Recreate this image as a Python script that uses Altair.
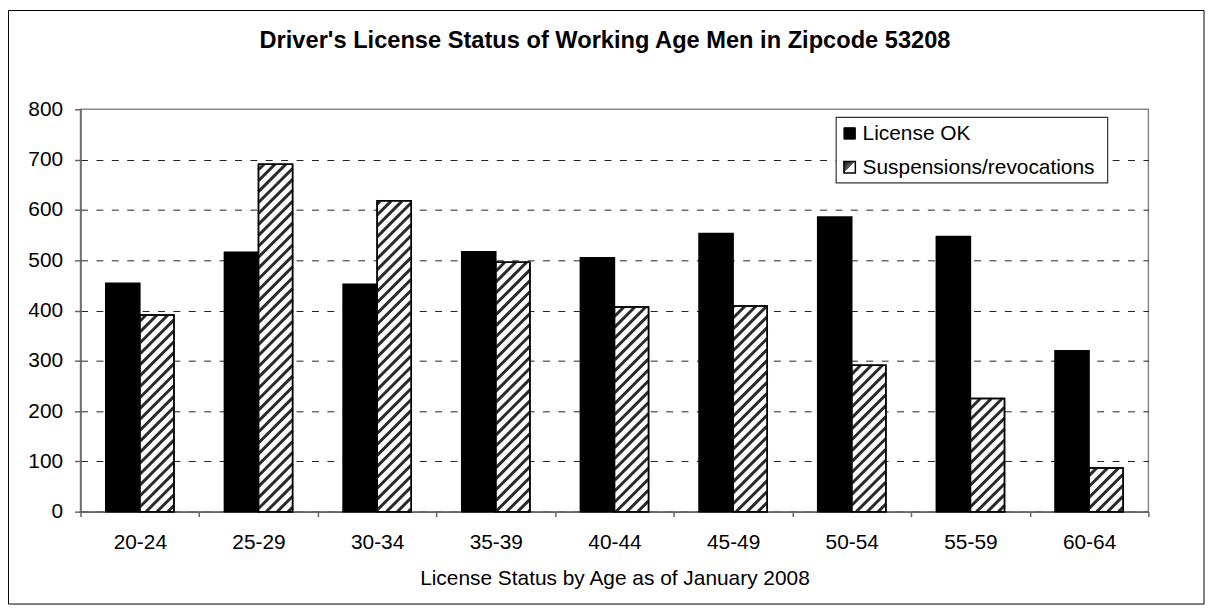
import altair as alt
import numpy as np
import pandas as pd

TITLE = "Driver's License Status of Working Age Men in Zipcode 53208"
X_TITLE = "License Status by Age as of January 2008"
categories = ["20-24", "25-29", "30-34", "35-39", "40-44", "45-49", "50-54", "55-59", "60-64"]
series_names = ["License OK", "Suspensions/revocations"]
license_ok = [454, 516, 452, 517, 505, 553, 586, 547, 320]
suspensions = [391, 691, 618, 496, 407, 409, 291, 225, 87]
y_ticks = [0, 100, 200, 300, 400, 500, 600, 700, 800]

FONT = "Liberation Sans"
W, H = 1075, 405
Y_MAX = 800
N = len(categories)
OFFSET_PAD = 0.74
HATCH_GAP = 11.0

df = pd.DataFrame({
    "category": categories * 2,
    "series": [series_names[0]] * N + [series_names[1]] * N,
    "value": license_ok + suspensions,
})

# hatch segments (pattern fill) derived from the suspension values
band_px = W / N
bar_px = band_px / (2 + 2 * OFFSET_PAD)
py = H / Y_MAX
rows = []
for i, v in enumerate(suspensions):
    left = (i + 0.5) * band_px
    h = v * py
    c = -bar_px + ((left - (-bar_px)) % HATCH_GAP)
    while c < h:
        xs = max(0.0, -c)
        xe = min(bar_px, h - c)
        if xe - xs > 0.3:
            rows.append({"x": (left + xs) / band_px, "x2": (left + xe) / band_px,
                         "value": (xs + c) / py, "value2": (xe + c) / py})
        c += HATCH_GAP
hatch_df = pd.DataFrame(rows)

x_scale = alt.Scale(domain=categories, paddingInner=0, paddingOuter=0, round=False)
off_scale = alt.Scale(domain=series_names, paddingInner=0, paddingOuter=OFFSET_PAD, round=False)
y_scale = alt.Scale(domain=[0, Y_MAX], nice=False, zero=True)

x_axis = alt.Axis(
    title=X_TITLE, titleFont=FONT, titleFontSize=21, titleFontWeight="normal", titleColor="black",
    titleY=73, titleBaseline="alphabetic",
    labelAngle=0, labelFont=FONT, labelFontSize=21, labelColor="black",
    labelBaseline="alphabetic", labelPadding=32,
    tickBand="extent", tickSize=5, tickColor="#666666", tickWidth=1.5,
    domainColor="#666666", domainWidth=1.5, grid=False,
)
y_axis = alt.Axis(
    values=y_ticks, title=None, labelFont=FONT, labelFontSize=21, labelColor="black",
    labelPadding=12, tickSize=6, tickColor="#666666", tickWidth=1.5,
    domainColor="#666666", domainWidth=1.5,
    grid=True, gridColor="#222222", gridWidth=1, gridDash=[7, 8.5],
    gridOpacity={"condition": {"test": "datum.value >= 800", "value": 0}, "value": 1},
)
y_enc = alt.Y("value:Q", scale=y_scale, axis=y_axis)

bars = alt.Chart(df).mark_bar(stroke="black", strokeWidth=1.5).encode(
    x=alt.X("category:N", sort=categories, scale=x_scale, axis=x_axis),
    xOffset=alt.XOffset("series:N", sort=series_names, scale=off_scale),
    y=y_enc,
    fill=alt.Fill("series:N", scale=alt.Scale(domain=series_names, range=["black", "white"]), legend=None),
)

hatch = alt.Chart(hatch_df).mark_rule(stroke="#2a2a2a", strokeWidth=3, strokeCap="butt").encode(
    x=alt.X("x:Q", scale=alt.Scale(domain=[0, N], nice=False, zero=False), axis=None),
    x2="x2:Q",
    y=y_enc,
    y2="value2:Q",
)

outline = alt.Chart(df[df["series"] == series_names[1]]).mark_bar(
    fill="transparent", stroke="black", strokeWidth=1.5
).encode(
    x=alt.X("category:N", sort=categories, scale=x_scale, axis=None),
    xOffset=alt.XOffset("series:N", sort=series_names, scale=off_scale),
    y=y_enc,
)

one = pd.DataFrame({"k": [0]})
border = alt.Chart(one).mark_rect(fill="transparent", stroke="black", strokeWidth=1).encode(
    x=alt.value(-72.5), x2=alt.value(1131), y=alt.value(-99.5), y2=alt.value(498)
)

title = alt.Chart(pd.DataFrame({"t": [TITLE]})).mark_text(
    align="center", baseline="alphabetic", font=FONT, fontSize=23.8, fontWeight="bold", color="black"
).encode(x=alt.value(528), y=alt.value(-62), text="t:N")

legend_box = alt.Chart(one).mark_rect(fill="white", stroke="#333333", strokeWidth=1.2).encode(
    x=alt.value(760.7), x2=alt.value(1034), y=alt.value(8), y2=alt.value(74)
)
sym_ok = alt.Chart(one).mark_rect(fill="black", stroke="black", strokeWidth=1).encode(
    x=alt.value(768.5), x2=alt.value(780), y=alt.value(18.5), y2=alt.value(30)
)
grad = alt.LinearGradient(
    gradient="linear",
    stops=[alt.GradientStop(color="#111111", offset=0), alt.GradientStop(color="#666666", offset=0.5),
           alt.GradientStop(color="#ffffff", offset=0.5), alt.GradientStop(color="#ffffff", offset=1)],
    x1=0, y1=0, x2=1, y2=1,
)
sym_s = alt.Chart(one).mark_rect(fill=grad, stroke="black", strokeWidth=1.5).encode(
    x=alt.value(768.5), x2=alt.value(780), y=alt.value(52.5), y2=alt.value(64)
)
leg_texts = []
for name, yb in zip(series_names, [31, 65.3]):
    leg_texts.append(
        alt.Chart(pd.DataFrame({"name": [name]})).mark_text(
            align="left", baseline="alphabetic", font=FONT, fontSize=21, color="black"
        ).encode(x=alt.value(787.3), y=alt.value(yb), text="name:N")
    )

chart = alt.layer(
    border, bars, hatch, outline, legend_box, sym_ok, sym_s, *leg_texts, title
).resolve_scale(x="independent").properties(
    width=W, height=H,
    autosize=alt.AutoSizeParams(type="none"),
    padding={"left": 73, "top": 100, "right": 59, "bottom": 100},
    background="white",
).configure_view(stroke="#888888", strokeWidth=1.5)

chart.save("out.html", embed_options={"renderer": "svg", "actions": False})
